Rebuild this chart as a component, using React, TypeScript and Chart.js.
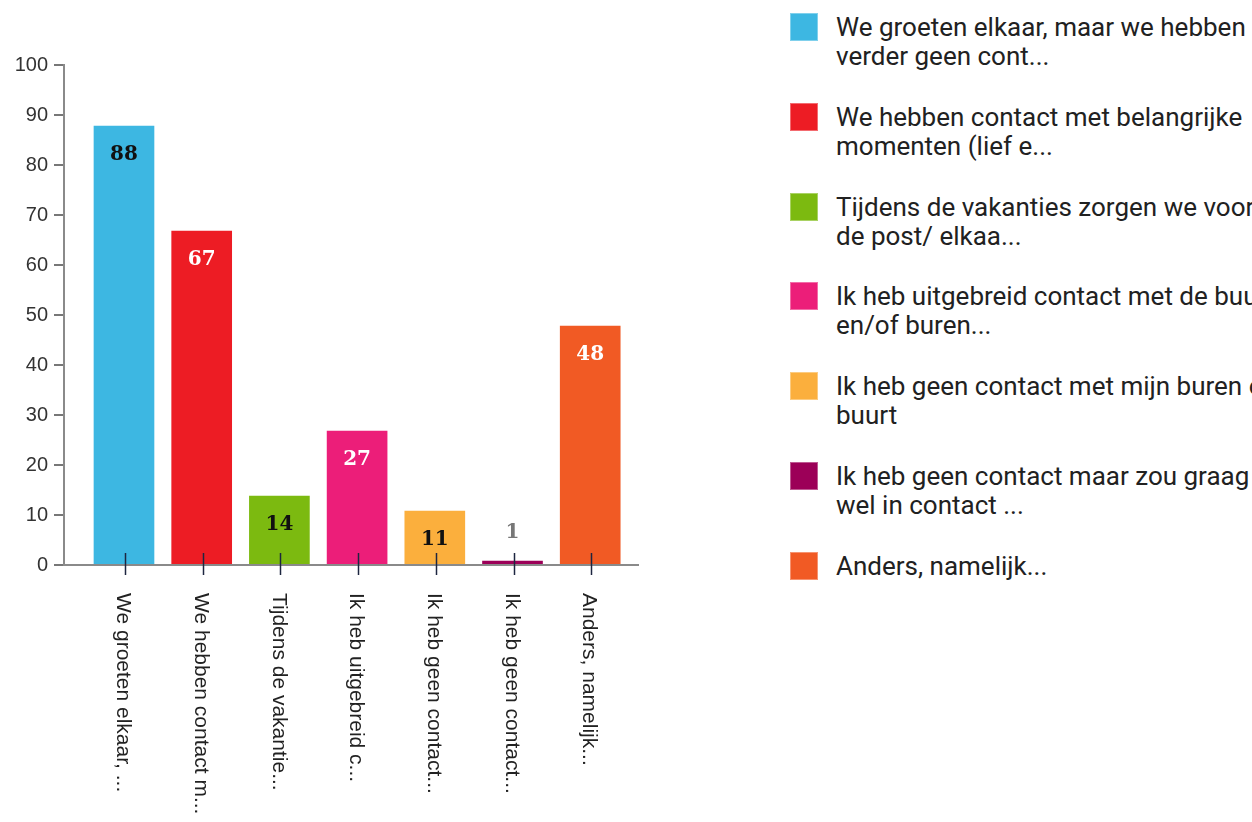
import React, { useEffect, useRef } from "react";
import { Chart, registerables } from "chart.js";

Chart.register(...registerables);

const categories = [
  "We groeten elkaar, ...",
  "We hebben contact m...",
  "Tijdens de vakantie...",
  "Ik heb uitgebreid c...",
  "Ik heb geen contact...",
  "Ik heb geen contact...",
  "Anders, namelijk...",
];
const values = [88, 67, 14, 27, 11, 1, 48];
const barColors = ["#3DB7E2", "#ED1C24", "#7CBA10", "#EC1E79", "#FBAF3D", "#9C0058", "#F15A24"];
const valueLabelColors = ["#111111", "#ffffff", "#111111", "#ffffff", "#111111", "#777777", "#ffffff"];
const legendLines = [
  ["We groeten elkaar, maar we hebben", "verder geen cont..."],
  ["We hebben contact met belangrijke", "momenten (lief e..."],
  ["Tijdens de vakanties zorgen we voor", "de post/ elkaa..."],
  ["Ik heb uitgebreid contact met de buurt", "en/of buren..."],
  ["Ik heb geen contact met mijn buren of", "buurt"],
  ["Ik heb geen contact maar zou graag", "wel in contact ..."],
  ["Anders, namelijk..."],
];
const yMin = 0;
const yMax = 100;
const yStep = 10;

export default function App() {
  const canvasRef = useRef<HTMLCanvasElement | null>(null);

  useEffect(() => {
    const canvas = canvasRef.current;
    if (!canvas) return;

    const tickPlugin = {
      id: "customTicksAndLabels",
      afterDatasetsDraw(chart: any) {
        const ctx = chart.ctx;
        const xs = chart.scales.x;
        const meta = chart.getDatasetMeta(0);
        ctx.save();
        // value labels
        ctx.font = "bold 20px 'DejaVu Serif'";
        ctx.textAlign = "center";
        ctx.textBaseline = "middle";
        meta.data.forEach((bar: any, i: number) => {
          const h = bar.base - bar.y;
          const y = h > 40 ? bar.y + 30 : bar.y - 27;
          ctx.fillStyle = valueLabelColors[i];
          ctx.fillText(String(values[i]), bar.x, y);
        });
        // tick marks crossing the axis
        ctx.strokeStyle = "#1d2640";
        ctx.lineWidth = 1.5;
        categories.forEach((_, i) => {
          const x = Math.round(xs.getPixelForValue(i)) + 1.5;
          ctx.beginPath();
          ctx.moveTo(x, 553);
          ctx.lineTo(x, 575);
          ctx.stroke();
        });
        // rotated category labels
        ctx.font = "21px 'Liberation Sans'";
        ctx.fillStyle = "#222222";
        ctx.textAlign = "left";
        ctx.textBaseline = "middle";
        categories.forEach((label, i) => {
          const x = xs.getPixelForValue(i) - 1;
          ctx.save();
          ctx.translate(x, 593);
          ctx.rotate(Math.PI / 2);
          ctx.fillText(label, 0, 0);
          ctx.restore();
        });
        ctx.restore();
      },
    };

    const chart = new Chart(canvas, {
      type: "bar",
      data: {
        datasets: [
          {
            data: values.map((v, i) => ({ x: i, y: v })),
            backgroundColor: barColors,
            borderColor: "rgba(255,255,255,0.35)",
            borderWidth: 1,
            barThickness: 62,
          },
        ],
      },
      options: {
        responsive: false,
        animation: false,
        events: [],
        layout: { padding: { left: 0, top: 65, right: 62, bottom: 0 } },
        plugins: { legend: { display: false }, tooltip: { enabled: false } },
        scales: {
          x: {
            type: "linear",
            offset: false,
            min: -0.772,
            max: 6.615,
            ticks: { display: false },
            grid: { display: false },
            border: { display: true, color: "#8a8a8a", width: 2 },
            afterFit: (s: any) => {
              s.height = 822 - 565;
            },
          },
          y: {
            min: yMin,
            max: yMax,
            ticks: {
              stepSize: yStep,
              font: { family: "'Liberation Sans'", size: 20 },
              color: "#333333",
              padding: 6,
            },
            grid: {
              drawOnChartArea: false,
              drawTicks: true,
              tickLength: 10,
              color: "#777777",
              lineWidth: 2,
            },
            border: { display: true, color: "#8a8a8a", width: 2 },
            afterFit: (s: any) => {
              s.width = 64;
            },
          },
        },
      },
      plugins: [tickPlugin],
    });

    return () => chart.destroy();
  }, []);

  return (
    <div
      style={{
        position: "fixed",
        left: 0,
        top: 0,
        width: 1252,
        height: 822,
        overflow: "hidden",
        background: "#ffffff",
      }}
    >
      <canvas
        ref={canvasRef}
        width={700}
        height={822}
        style={{ position: "absolute", left: 0, top: 0, width: 700, height: 822 }}
      />
      {legendLines.map((lines, i) => (
        <div
          key={i}
          style={{
            position: "absolute",
            left: 790,
            top: 13 + i * 89.8,
            display: "flex",
            alignItems: "flex-start",
            whiteSpace: "nowrap",
          }}
        >
          <div
            style={{
              width: 28,
              height: 28,
              background: barColors[i],
              flex: "0 0 auto",
              boxSizing: "border-box",
              border: "1px solid rgba(255,255,255,0.35)",
            }}
          />
          <div
            style={{
              marginLeft: 18,
              fontFamily: "Roboto",
              fontSize: 26,
              lineHeight: "29px",
              color: "#212121",
            }}
          >
            {lines.map((l, j) => (
              <div key={j}>{l}</div>
            ))}
          </div>
        </div>
      ))}
    </div>
  );
}
